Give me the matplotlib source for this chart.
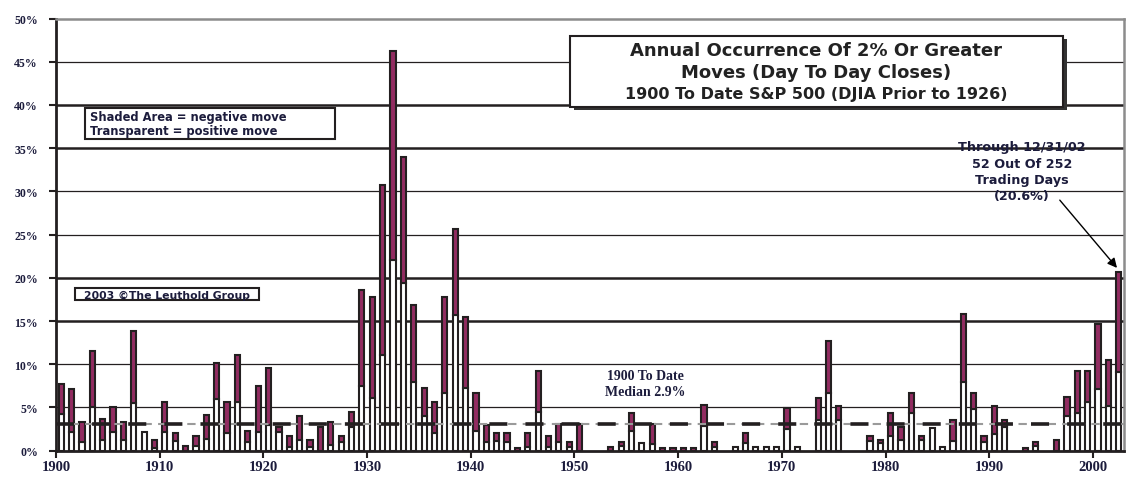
import matplotlib
matplotlib.use("Agg")
import matplotlib.pyplot as plt
from matplotlib.patches import Rectangle
import numpy as np

years = list(range(1900, 2003))
# total % of days with 2%+ moves, and positive (transparent) part
total = [7.7, 7.1, 3.3, 11.5, 3.7, 5.1, 3.3, 13.9, 2.2, 1.2,
         5.6, 2.0, 0.5, 1.65, 4.1, 10.2, 5.65, 11.1, 2.25, 7.45,
         9.6, 2.75, 1.7, 4.05, 1.25, 2.7, 3.35, 1.75, 4.45, 18.6,
         17.8, 30.7, 46.2, 34.0, 16.8, 7.25, 5.65, 17.8, 25.7, 15.5,
         6.7, 3.0, 2.1, 2.05, 0.35, 2.05, 9.25, 1.75, 3.1, 1.05,
         3.1, 0, 0, 0.4, 0.97, 4.4, 0.9, 3.1, 0.35, 0.35,
         0.35, 0.35, 5.3, 0.97, 0, 0.4, 2.1, 0.4, 0.4, 0.4,
         4.9, 0.4, 0, 6.15, 12.7, 5.2, 0, 0, 1.74, 1.27,
         4.36, 2.78, 6.68, 1.74, 2.66, 0.4, 3.55, 15.85, 6.68, 1.74,
         5.2, 3.55, 0, 0.35, 0.97, 0, 1.27, 6.25, 9.26, 9.26,
         14.7, 10.5, 20.7]
positive = [4.3, 2.2, 1.0, 5.0, 1.2, 2.2, 1.2, 5.5, 2.2, 0.35,
            2.2, 1.1, 0, 0.6, 1.4, 6.0, 2.05, 5.6, 1.0, 2.2,
            3.0, 2.2, 0.4, 1.2, 0.4, 0, 0.65, 1.0, 2.7, 7.5,
            6.1, 11.1, 22.1, 19.4, 8.0, 4.0, 2.05, 6.7, 15.7, 7.25,
            2.25, 0.97, 1.15, 0.97, 0, 0.4, 4.5, 0.43, 1.05, 0.4,
            0, 0, 0, 0, 0.5, 2.3, 0.9, 0.8, 0, 0,
            0, 0, 2.8, 0.4, 0, 0.4, 0.9, 0.4, 0.4, 0.4,
            2.5, 0.4, 0, 3.55, 6.65, 3.5, 0, 0, 1.16, 0.92,
            1.7, 1.27, 4.36, 1.27, 2.66, 0.4, 1.16, 7.9, 4.83, 0.97,
            1.93, 2.78, 0, 0, 0.5, 0, 0, 4.05, 4.36, 5.6,
            7.14, 5.2, 9.14]
median_level = 3.05
y_ticks = [0, 5, 10, 15, 20, 25, 30, 35, 40, 45, 50]
y_labels = ["0%", "5%", "10%", "15%", "20%", "25%", "30%", "35%", "40%", "45%", "50%"]
x_ticks_years = [1900, 1910, 1920, 1930, 1940, 1950, 1960, 1970, 1980, 1990, 2000]

W, H = 1141, 481
fig = plt.figure(figsize=(W / 100, H / 100), dpi=100)
fig.patch.set_facecolor("white")

def fx(x):
    return x / W

def fy(y):
    return 1 - y / H

left, right, top, bottom = 56, 1124, 19.5, 451.7
ax = fig.add_axes([fx(left), fy(bottom), fx(right) - fx(left), fy(top) - fy(bottom)])
ax.set_xlim(0, 103)
ax.set_ylim(0, 50)

edge = "#231f20"
neg_color = "#922c61"
txt_color = "#1c1c3c"

# gridlines
thick = {15, 20, 35, 40}
for v in y_ticks[1:-1]:
    ax.axhline(v, color=edge, lw=1.8 if v in thick else 0.9, zorder=1)

pos_arr = np.array(positive)
tot_arr = np.array(total)
neg_arr = tot_arr - pos_arr
xs = np.array(years) - 1900 + 0.5

m = pos_arr > 0
ax.bar(xs[m], pos_arr[m], width=0.5, color="white", edgecolor=edge, linewidth=1.5, zorder=3)
m2 = neg_arr > 0.01
ax.bar(xs[m2], neg_arr[m2], bottom=pos_arr[m2], width=0.5, color=neg_color,
       edgecolor=edge, linewidth=1.5, zorder=3)

# median line
ax.axhline(median_level, color="#9a9a9a", lw=1.5, ls=(0, (4, 3)), zorder=4)
ax.axhline(median_level, color=edge, lw=2.6, ls=(0, (5, 5)), zorder=5)

# spines
for s in ["left", "bottom"]:
    ax.spines[s].set_color(edge)
    ax.spines[s].set_linewidth(2.0)
for s in ["top", "right"]:
    ax.spines[s].set_color("#8c8c8c")
    ax.spines[s].set_linewidth(1.8)

ax.set_yticks(y_ticks)
ax.set_yticklabels(y_labels)
ax.set_xticks([y - 1900 for y in x_ticks_years])
ax.set_xticklabels([str(y) for y in x_ticks_years])
ax.tick_params(axis="both", direction="out", length=5, width=1.5, color=edge)
for lab in ax.get_yticklabels():
    lab.set_fontfamily("Liberation Serif")
    lab.set_fontweight("bold")
    lab.set_fontsize(8.5)
    lab.set_color(txt_color)
for lab in ax.get_xticklabels():
    lab.set_fontfamily("Liberation Serif")
    lab.set_fontweight("bold")
    lab.set_fontsize(10.5)
    lab.set_color(txt_color)
ax.tick_params(axis="y", pad=8)
ax.tick_params(axis="x", pad=2)

# title box with shadow
bx0, by0, bx1, by1 = 570, 37, 1063, 108
fig.patches.append(Rectangle((fx(bx0 + 4), fy(by1 + 3)), fx(bx1 - bx0), fy(by0) - fy(by1),
                             transform=fig.transFigure, facecolor="#333333", edgecolor="none", zorder=10))
fig.patches.append(Rectangle((fx(bx0), fy(by1)), fx(bx1 - bx0), fy(by0) - fy(by1),
                             transform=fig.transFigure, facecolor="white", edgecolor=edge, lw=1.5, zorder=11))
cx = (bx0 + bx1) / 2
fig.text(fx(cx), fy(51), "Annual Occurrence Of 2% Or Greater", ha="center", va="center",
         fontsize=13, fontweight="bold", family="DejaVu Sans", color="#222222", zorder=12)
fig.text(fx(cx), fy(73), "Moves (Day To Day Closes)", ha="center", va="center",
         fontsize=13, fontweight="bold", family="DejaVu Sans", color="#222222", zorder=12)
fig.text(fx(cx), fy(94), "1900 To Date S&P 500 (DJIA Prior to 1926)", ha="center", va="center",
         fontsize=11.5, fontweight="bold", family="DejaVu Sans", color="#222222", zorder=12)

# legend box
fig.patches.append(Rectangle((fx(85), fy(140)), fx(335 - 85), fy(109) - fy(140),
                             transform=fig.transFigure, facecolor="white", edgecolor=edge, lw=1.5, zorder=10))
fig.text(fx(90), fy(118), "Shaded Area = negative move", ha="left", va="center",
         fontsize=8.3, fontweight="bold", family="DejaVu Sans", color=txt_color, zorder=12)
fig.text(fx(90), fy(132), "Transparent = positive move", ha="left", va="center",
         fontsize=8.3, fontweight="bold", family="DejaVu Sans", color=txt_color, zorder=12)

# copyright box
fig.patches.append(Rectangle((fx(75), fy(301)), fx(259 - 75), fy(289) - fy(301),
                             transform=fig.transFigure, facecolor="white", edgecolor=edge, lw=1.5, zorder=10))
fig.text(fx(167), fy(295.5), "2003 \u00a9The Leuthold Group", ha="center", va="center",
         fontsize=7.8, fontweight="bold", family="DejaVu Sans", color=txt_color, zorder=12)

# median text
fig.text(fx(645), fy(376), "1900 To Date", ha="center", va="center",
         fontsize=10, fontweight="bold", family="Liberation Serif", color=txt_color, zorder=12)
fig.text(fx(645), fy(392), "Median 2.9%", ha="center", va="center",
         fontsize=10, fontweight="bold", family="Liberation Serif", color=txt_color, zorder=12)

# annotation
for txt, yy in [("Through 12/31/02", 147), ("52 Out Of 252", 164),
                ("Trading Days", 181), ("(20.6%)", 197)]:
    fig.text(fx(1022), fy(yy), txt, ha="center", va="center",
             fontsize=9.2, fontweight="bold", family="DejaVu Sans", color=txt_color, zorder=12)

ax.annotate("", xy=(102.5, 20.9), xycoords="data",
            xytext=(fx(1058), fy(199)), textcoords="figure fraction",
            arrowprops=dict(arrowstyle="-|>", color="black", lw=1.0, mutation_scale=14),
            zorder=12, annotation_clip=False)

fig.savefig("out.png", dpi=100, facecolor="white")
